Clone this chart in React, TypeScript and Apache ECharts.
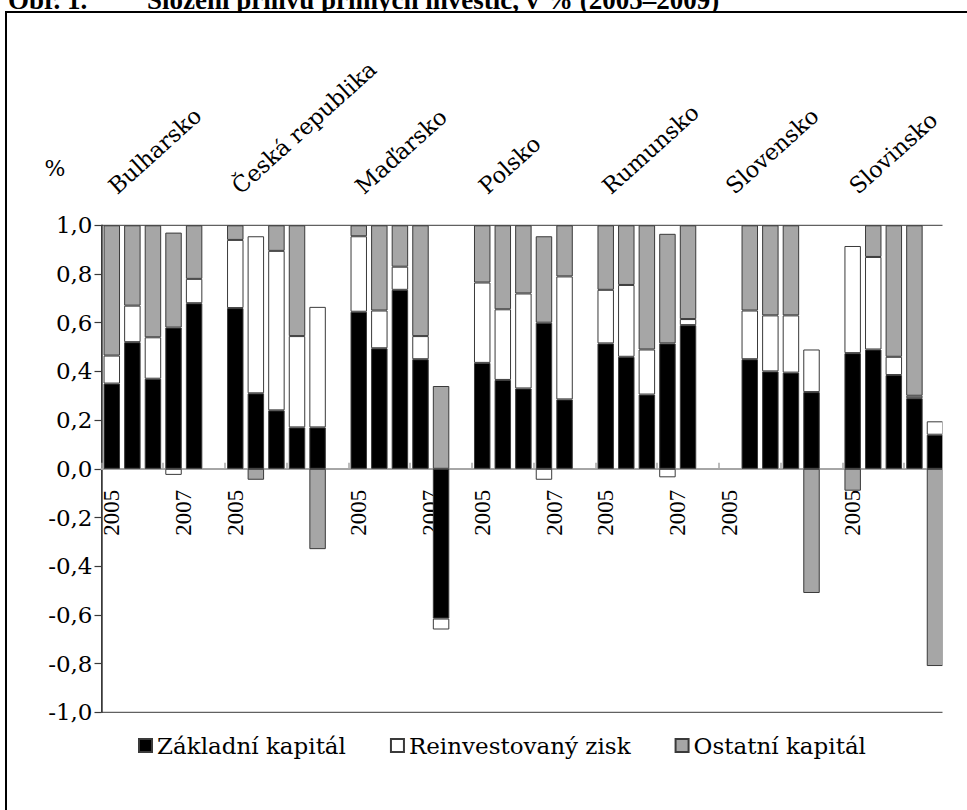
import React, { useEffect, useRef } from 'react';
import * as echarts from 'echarts';

// Countries and years, in the order the bars are laid out
const countries = ['Bulharsko', 'Česká republika', 'Maďarsko', 'Polsko', 'Rumunsko', 'Slovensko', 'Slovinsko'];
const years = ['2005', '2006', '2007', '2008', '2009'];
// Countries whose group carries a second year caption ("2007")
const midCaptionCountries = ['Bulharsko', 'Maďarsko', 'Polsko', 'Rumunsko'];

// Structure of FDI inflow (share of total), country by country, 2005–2009
const zakladniKapital = [
  0.35, 0.52, 0.37, 0.58, 0.68, // Bulharsko
  0.66, 0.31, 0.24, 0.17, 0.17, // Česká republika
  0.645, 0.495, 0.735, 0.45, -0.615, // Maďarsko
  0.435, 0.365, 0.33, 0.6, 0.285, // Polsko
  0.515, 0.46, 0.305, 0.515, 0.59, // Rumunsko
  null, 0.45, 0.4, 0.395, 0.315, // Slovensko
  0.475, 0.49, 0.385, 0.29, 0.14, // Slovinsko
];
const reinvestovanyZisk = [
  0.115, 0.15, 0.17, -0.025, 0.1,
  0.28, 0.645, 0.655, 0.375, 0.495,
  0.31, 0.155, 0.095, 0.095, -0.045,
  0.33, 0.29, 0.39, -0.045, 0.505,
  0.22, 0.295, 0.185, -0.035, 0.025,
  null, 0.2, 0.23, 0.235, 0.175,
  0.44, 0.38, 0.075, 0.01, 0.055,
];
const ostatniKapital = [
  0.535, 0.33, 0.46, 0.39, 0.22,
  0.06, -0.045, 0.105, 0.455, -0.33,
  0.045, 0.35, 0.17, 0.455, 0.34,
  0.235, 0.345, 0.28, 0.355, 0.21,
  0.265, 0.245, 0.51, 0.45, 0.385,
  null, 0.35, 0.37, 0.37, -0.51,
  -0.09, 0.13, 0.54, 0.7, -0.81,
];

const seriesNames = ['Základní kapitál', 'Reinvestovaný zisk', 'Ostatní kapitál'];
const seriesColors = ['#000000', '#ffffff', '#a6a6a6'];

// Y axis ticks: -1,0 … 1,0 with a decimal comma
const yMin = -1;
const yMax = 1;
const yStep = 0.2;

// Each country takes five year slots plus one empty spacer slot
const SLOT = years.length + 1;
const slotCount = countries.length * SLOT - 1;

function toSlots<T>(values: (T | null)[], spacer: T | null): (T | null)[] {
  const out: (T | null)[] = [];
  countries.forEach((_, c) => {
    for (let y = 0; y < years.length; y++) out.push(values[c * years.length + y]);
    if (c < countries.length - 1) out.push(spacer);
  });
  return out;
}

const slotYears = toSlots(countries.flatMap(() => years), '') as string[];
const slotCountries = Array.from({ length: slotCount }, (_, j) => (j % SLOT === 0 ? countries[j / SLOT] : ''));
// The "2007" captions sit on the boundary between the 2008 and 2009 slots
const boundaryLabels = Array.from({ length: slotCount + 1 }, (_, j) => {
  const country = countries[Math.floor(j / SLOT)];
  return j % SLOT === 4 && midCaptionCountries.includes(country) ? years[2] : '';
});

const serifWide = 'DejaVu Serif';
const serifTimes = 'Liberation Serif';

export default function App() {
  const ref = useRef<HTMLDivElement>(null);

  useEffect(() => {
    if (!ref.current) return;
    const chart = echarts.init(ref.current, undefined, { renderer: 'svg' });

    const gridLeft = 101.5;
    const slotW = 20.58;
    const gridTop = 225.3;
    const gridH = 487;
    // distance from the plot bottom up to the zero line
    const zeroOffset = -gridH * ((0 - yMin) / (yMax - yMin));

    const yearLabelStyle = { rotate: 90, margin: 21, fontFamily: serifTimes, fontSize: 23, color: '#000' };

    const option: any = {
      animation: false,
      backgroundColor: '#ffffff',
      grid: {
        left: gridLeft,
        top: gridTop,
        width: slotW * slotCount,
        height: gridH,
        show: true,
        borderColor: '#3a3a3a',
        borderWidth: 1,
        backgroundColor: 'transparent',
        outerBoundsMode: 'none',
      },
      legend: {
        left: 138,
        top: 734,
        padding: 0,
        itemWidth: 13,
        itemHeight: 13,
        itemGap: 44,
        icon: 'rect',
        data: seriesNames,
        textStyle: { fontFamily: serifWide, fontSize: 23, color: '#000' },
      },
      xAxis: [
        {
          // bar axis: gray zero line with short inward ticks every third slot
          type: 'category',
          data: slotYears,
          position: 'bottom',
          boundaryGap: true,
          z: 1,
          axisLine: { show: true, onZero: true, onZeroAxisIndex: 0, lineStyle: { color: '#a6a6a6', width: 2 } },
          axisTick: { show: true, inside: true, interval: 2, length: 6, lineStyle: { color: '#a6a6a6', width: 1.5 } },
          axisLabel: { show: false },
          splitLine: { show: false },
        },
        {
          // "2005" captions under the first bar of each country
          type: 'category',
          data: slotYears,
          position: 'bottom',
          offset: zeroOffset,
          boundaryGap: true,
          z: 0,
          axisLine: { show: false, onZero: false },
          axisTick: { show: false },
          axisLabel: { ...yearLabelStyle, interval: (_i: number, v: string) => v === years[0] },
          splitLine: { show: false },
        },
        {
          // "2007" captions on slot boundaries
          type: 'category',
          data: boundaryLabels,
          position: 'bottom',
          offset: zeroOffset,
          boundaryGap: false,
          z: 0,
          axisLine: { show: false, onZero: false },
          axisTick: { show: false },
          axisLabel: { ...yearLabelStyle, interval: 0 },
          splitLine: { show: false },
        },
        {
          // country names above the plot
          type: 'category',
          data: slotCountries,
          position: 'top',
          boundaryGap: true,
          axisLine: { show: false, onZero: false },
          axisTick: { show: false },
          axisLabel: {
            interval: 0,
            rotate: -42,
            margin: 36,
            padding: [0, 0, 19, 0],
            fontFamily: serifWide,
            fontSize: 22.5,
            color: '#000',
          },
          splitLine: { show: false },
        },
      ],
      yAxis: {
        type: 'value',
        min: yMin,
        max: yMax,
        interval: yStep,
        name: '%',
        nameLocation: 'end',
        nameGap: 46,
        nameMoveOverlap: false,
        nameTextStyle: { fontFamily: serifWide, fontSize: 22, color: '#000', align: 'right', padding: [0, 36, 0, 0] },
        axisLine: { show: true, lineStyle: { color: '#3a3a3a', width: 1.5 } },
        axisTick: { show: true, length: 7, lineStyle: { color: '#3a3a3a', width: 1.2 } },
        axisLabel: {
          formatter: (v: number) => v.toFixed(1).replace('.', ','),
          fontFamily: serifWide,
          fontSize: 23,
          color: '#000',
          margin: 9,
        },
        splitLine: { show: false },
      },
      series: [zakladniKapital, reinvestovanyZisk, ostatniKapital].map((vals, i) => ({
        type: 'bar',
        name: seriesNames[i],
        stack: 'fdi',
        xAxisIndex: 0,
        yAxisIndex: 0,
        z: 10,
        barCategoryGap: '20%',
        data: toSlots(vals, null),
        itemStyle: { color: seriesColors[i], borderColor: '#3a3a3a', borderWidth: 1 },
      })),
      graphic: {
        elements: [
          {
            type: 'text',
            x: 8,
            y: 0,
            z: -20,
            style: { text: 'Obr. 1.', fontFamily: serifTimes, fontWeight: 'bold', fontSize: 27, fill: '#000', verticalAlign: 'middle' },
          },
          {
            type: 'text',
            x: 147,
            y: 0,
            z: -20,
            style: {
              text: 'Složení přílivu přímých investic, v % (2005–2009)',
              fontFamily: serifTimes,
              fontWeight: 'bold',
              fontSize: 27,
              fill: '#000',
              verticalAlign: 'middle',
            },
          },
          {
            type: 'rect',
            z: -10,
            shape: { x: 6, y: 12, width: 1000, height: 900 },
            style: { fill: '#ffffff', stroke: '#000000', lineWidth: 2 },
          },
          {
            type: 'rect',
            z: 100,
            shape: { x: 942.5, y: 200, width: 40, height: 530 },
            style: { fill: '#ffffff' },
          },
        ],
      },
    };

    chart.setOption(option);
    return () => chart.dispose();
  }, []);

  return (
    <div
      ref={ref}
      style={{ position: 'fixed', left: 0, top: 0, width: 967, height: 810, background: '#ffffff' }}
    />
  );
}
